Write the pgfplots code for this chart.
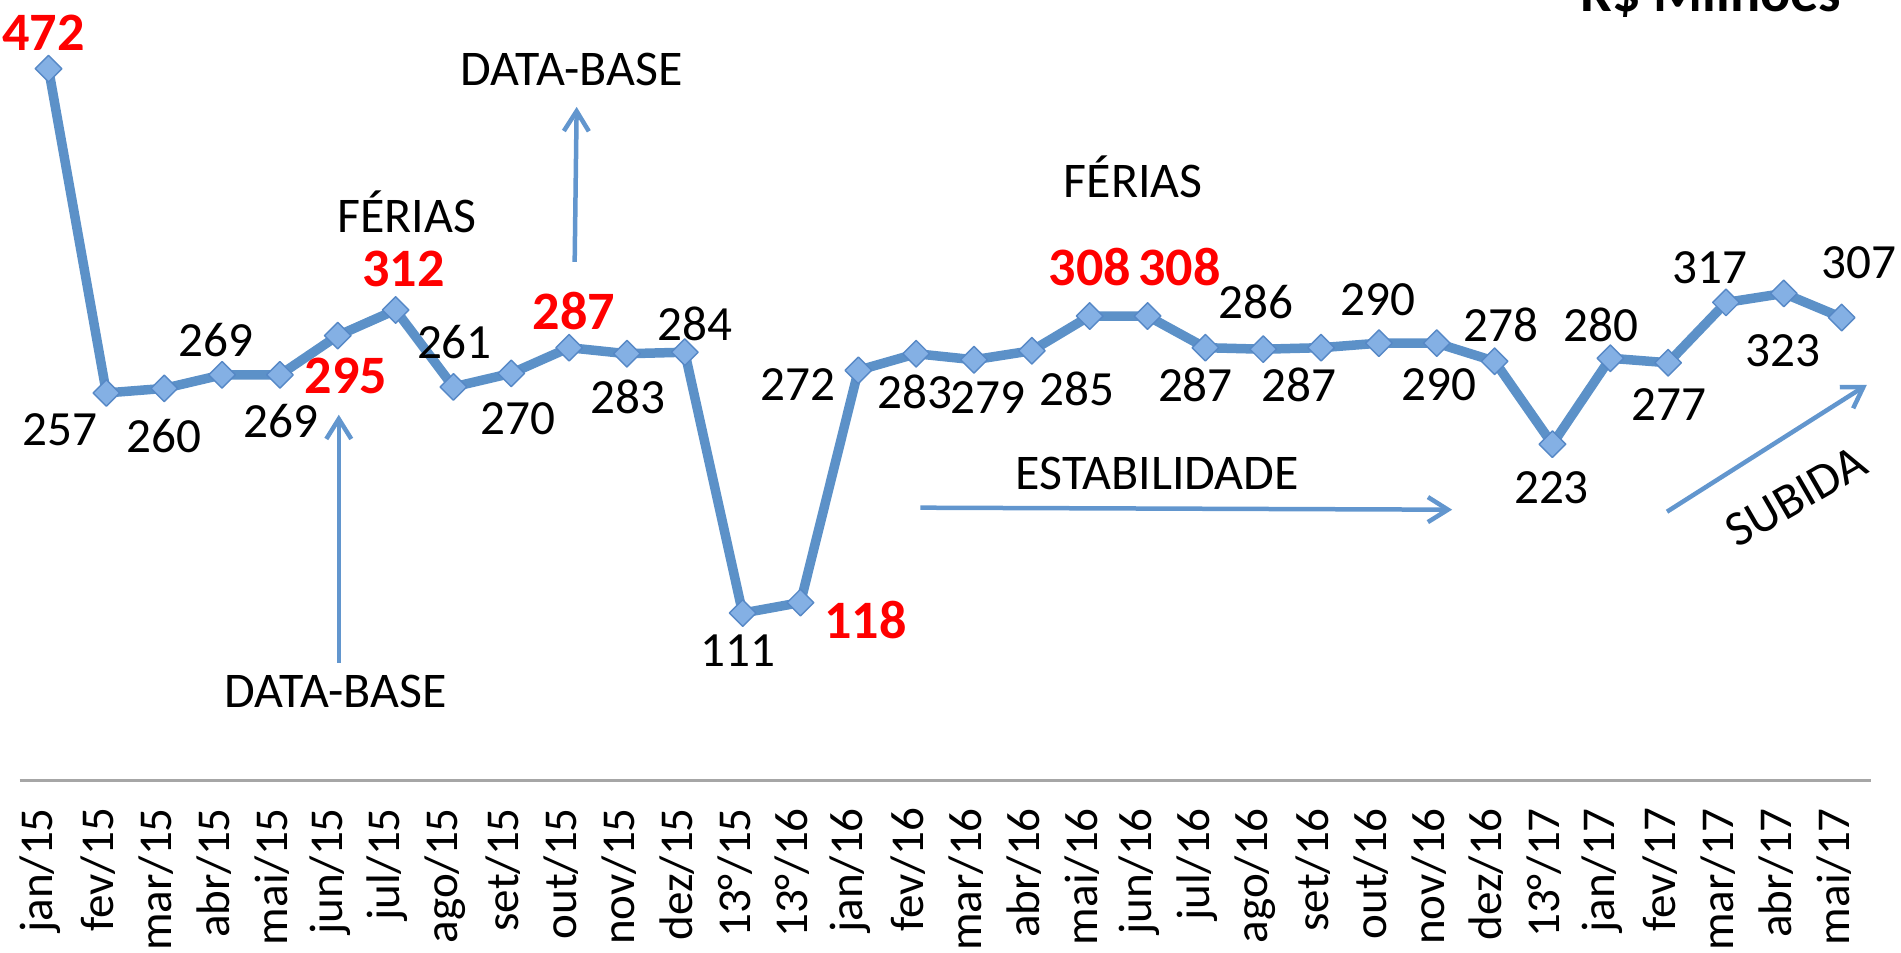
\documentclass[border=0pt]{standalone}
\usepackage{pgfplots}
\pgfplotsset{compat=1.18}
\usepackage{pgfplotstable}
\usepackage{fontspec}
\setmainfont{Carlito}
\usetikzlibrary{arrows.meta}
\definecolor{lineblue}{RGB}{92,145,200}
\definecolor{markfill}{RGB}{132,176,228}
\definecolor{markdraw}{RGB}{86,136,198}
\definecolor{arrowblue}{RGB}{98,150,206}
\newcommand\lb[5]{\node[font=\fontsize{14}{16}\selectfont, xshift=#3*0.01cm, yshift=#4*0.01cm] at (axis cs:#1,#2) {#5};}
\newcommand\lr[5]{\node[font=\fontsize{15.4}{18}\selectfont\bfseries, text=red, xshift=#3*0.01cm, yshift=#4*0.01cm] at (axis cs:#1,#2) {#5};}
\newcommand\tf{\fontsize{14.2}{17}\selectfont}

\pgfplotstableread{
x y
0 472
1 257
2 260
3 269
4 269
5 295
6 312
7 261
8 270
9 287
10 283
11 284
12 111
13 118
14 272
15 283
16 279
17 285
18 308
19 308
20 287
21 286
22 287
23 290
24 290
25 278
26 223
27 280
28 277
29 317
30 323
31 307
}\datatable

\begin{document}
\begin{tikzpicture}
\useasboundingbox (0,0) rectangle (19.01cm,9.53cm);
\begin{axis}[
  at={(0.196cm,1.725cm)}, anchor=south west, scale only axis,
  width=18.51cm, height=7.54cm,
  xmin=-0.5, xmax=31.5, ymin=0, ymax=500,
  axis x line*=bottom, axis y line=none,
  x axis line style={draw=black!35, line width=0.85pt},
  xtick={0,...,31},
  xticklabels={jan/15,fev/15,mar/15,abr/15,mai/15,jun/15,jul/15,ago/15,set/15,out/15,nov/15,dez/15,13°/15,13°/16,jan/16,fev/16,mar/16,abr/16,mai/16,jun/16,jul/16,ago/16,set/16,out/16,nov/16,dez/16,13°/17,jan/17,fev/17,mar/17,abr/17,mai/17},
  major tick length=0pt,
  xticklabel style={font=\fontsize{13.4}{15}\selectfont, yshift=-0.27cm, xshift=-0.08cm, rotate=90, anchor=east, inner sep=0pt},
  clip=false,
]
\addplot[lineblue, line width=0.095cm, line join=round, mark=square*, mark size=0.094cm,
  mark options={rotate=45, fill=markfill, draw=markdraw, line width=0.4pt}] table[x=x,y=y]{\datatable};

\lr{0}{472}{-5}{36}{472}
\lb{1}{257}{-46}{-37}{257}
\lb{2}{260}{0}{-48}{260}
\lb{3}{269}{-6}{35}{269}
\lb{4}{269}{1}{-46}{269}
\lr{5}{295}{8}{-40}{295}
\lr{6}{312}{8}{41}{312}
\lb{7}{261}{1}{45}{261}
\lb{8}{270}{7}{-45}{270}
\lr{9}{287}{5}{37}{287}
\lb{10}{283}{1}{-43}{283}
\lb{11}{284}{10}{28}{284}
\lb{12}{111}{-5}{-38}{111}
\lr{13}{118}{65}{-17}{118}
\lb{14}{272}{-60}{-14}{272}
\lb{15}{283}{-1}{-38}{283}
\lb{16}{279}{14}{-38}{279}
\lb{17}{285}{45}{-38}{285}
\lr{18}{308}{0}{49}{308}
\lr{19}{308}{32}{49}{308}
\lb{20}{287}{-10}{-37}{287}
\lb{21}{286}{-7}{47}{286}
\lb{22}{287}{-22}{-37}{287}
\lb{23}{290}{-1}{43}{290}
\lb{24}{290}{2}{-42}{290}
\lb{25}{278}{6}{36}{278}
\lb{26}{223}{-1}{-44}{223}
\lb{27}{280}{-9}{33}{280}
\lb{28}{277}{1}{-42}{277}
\lb{29}{317}{-16}{35}{317}
\lb{30}{323}{-1}{-57}{323}
\lb{31}{307}{17}{55}{307}
\end{axis}

\begin{scope}[x=0.01cm, y=-0.01cm, shift={(0,9.53cm)}]
\tikzset{ann/.style={arrowblue, line width=0.045cm, -{Straight Barb[length=0.2cm, width=0.25cm]}}}
\draw[ann] (339,663) -- (339,415);
\draw[ann] (575,262) -- (577,107);
\draw[ann] (921,508) -- (1453,510);
\draw[ann] (1668,512) -- (1868,385);
\node[font=\tf, anchor=base] at (336,708) {DATA-BASE};
\node[font=\tf, anchor=base] at (572,86) {DATA-BASE};
\node[font=\tf, anchor=base] at (407,233) {FÉRIAS};
\node[font=\tf, anchor=base] at (1134,198) {FÉRIAS};
\node[font=\tf, anchor=base] at (1158,490) {ESTABILIDADE};
\node[font=\tf, rotate=30] at (1797,497) {SUBIDA};
\node[font=\fontsize{16}{19}\selectfont\bfseries, anchor=base east, inner sep=0pt] at (1843,12) {R\$ Milhões};
\end{scope}
\end{tikzpicture}
\end{document}
